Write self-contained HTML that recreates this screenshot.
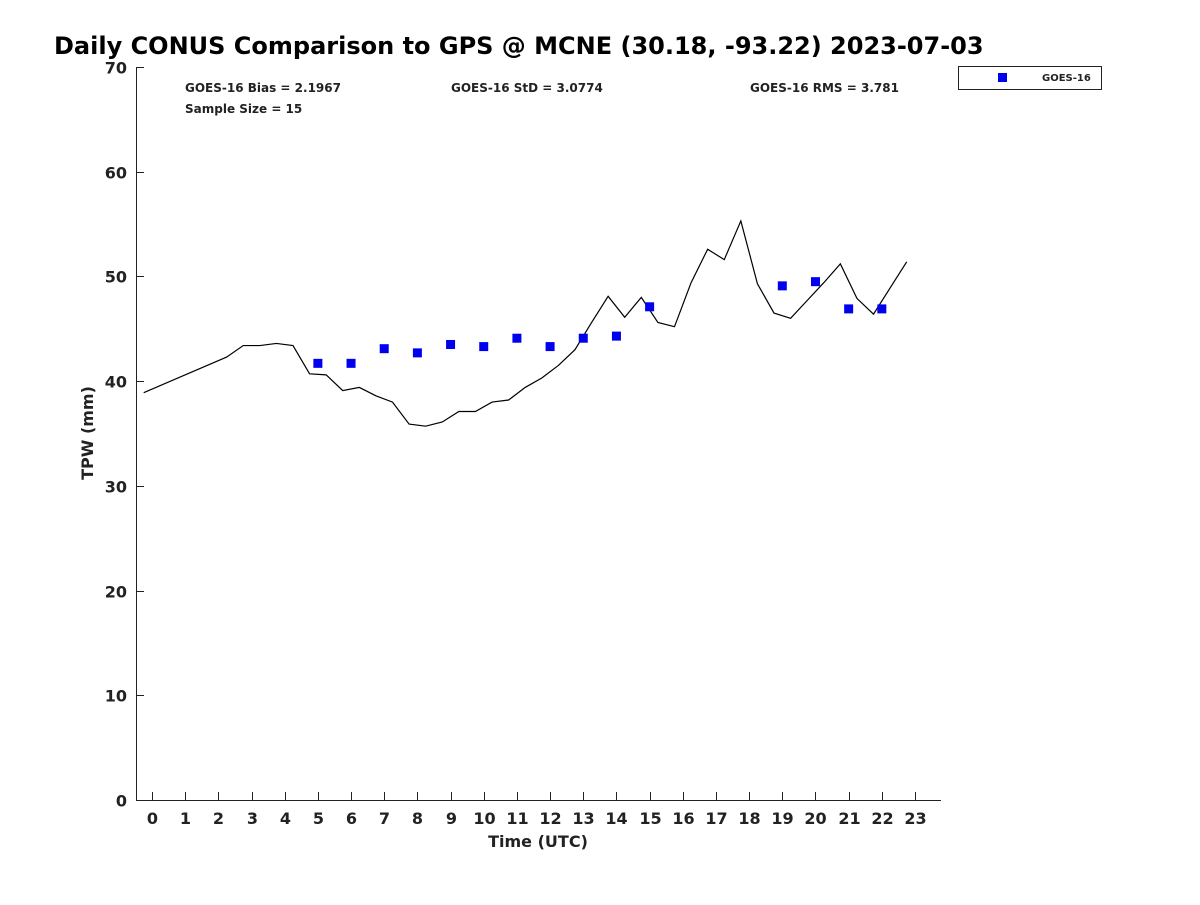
<!DOCTYPE html>
<html><head><meta charset="utf-8"><style>
body{margin:0;background:#fff;}
svg text{font-family:"DejaVu Sans","Liberation Sans",sans-serif;font-weight:bold;fill:#222;}
</style></head><body>
<svg width="1200" height="900" viewBox="0 0 1200 900">
<text x="54" y="54" font-size="24" fill="#000" style="fill:#000">Daily CONUS Comparison to GPS @ MCNE (30.18, -93.22) 2023-07-03</text>
<g id="axes"></g>
<g id="marks"></g>
<text x="185" y="92" font-size="12">GOES-16 Bias = 2.1967</text>
<text x="451" y="92" font-size="12">GOES-16 StD = 3.0774</text>
<text x="750" y="92" font-size="12">GOES-16 RMS = 3.781</text>
<text x="185" y="113" font-size="12">Sample Size = 15</text>
<g>
<rect x="958.5" y="66.5" width="143" height="23" fill="#fff" stroke="#222"/>
<rect x="998" y="73" width="9" height="9" fill="#0000ee"/>
<text x="1042" y="81" font-size="10">GOES-16</text>
</g>
<text x="538" y="847" font-size="16" text-anchor="middle">Time (UTC)</text>
<text transform="translate(93,433) rotate(-90)" font-size="16" text-anchor="middle">TPW (mm)</text>
</svg>
<script>
const gpsTimes=[-0.25,2.25,2.75,3.25,3.75,4.25,4.75,5.25,5.75,6.25,6.75,7.25,7.75,8.25,8.75,9.25,9.75,10.25,10.75,11.25,11.75,12.25,12.75,13.25,13.75,14.25,14.75,15.25,15.75,16.25,16.75,17.25,17.75,18.25,18.75,19.25,19.75,20.25,20.75,21.25,21.75,22.25,22.75];
const gpsValues=[38.9,42.3,43.4,43.4,43.6,43.4,40.7,40.6,39.1,39.4,38.6,38.0,35.9,35.7,36.1,37.1,37.1,38.0,38.2,39.4,40.3,41.5,43.0,45.6,48.1,46.1,48.0,45.6,45.2,49.4,52.6,51.6,55.3,49.3,46.5,46.0,47.7,49.4,51.2,47.9,46.4,48.9,51.4];
const goesHours=[5,6,7,8,9,10,11,12,13,14,15,19,20,21,22];
const goesValues=[41.7,41.7,43.1,42.7,43.5,43.3,44.1,43.3,44.1,44.3,47.1,49.1,49.5,46.9,46.9];
const xTicks=[0,1,2,3,4,5,6,7,8,9,10,11,12,13,14,15,16,17,18,19,20,21,22,23];
const yTicks=[0,10,20,30,40,50,60,70];
const NS='http://www.w3.org/2000/svg';
const xs=h=>152+h*(915-152)/23;
const ys=v=>800-v*(800-67)/70;
function mk(tag,attrs,parent){const e=document.createElementNS(NS,tag);for(const k in attrs)e.setAttribute(k,attrs[k]);parent.appendChild(e);return e;}
const axes=document.getElementById('axes'),marks=document.getElementById('marks');
let a=mk('line',{x1:136.5,y1:67,x2:136.5,y2:800.5,stroke:'#222'},axes);


a=mk('line',{x1:136,y1:800.5,x2:941,y2:800.5,stroke:'#222'},axes);


xTicks.forEach(h=>{const x=Math.round(xs(h))+0.5;
 const t=mk('line',{x1:x,y1:800,x2:x,y2:792,stroke:'#222'},axes);
 
 
 const l=mk('text',{x:x,y:824,'font-size':16,'text-anchor':'middle'},axes);l.textContent=h;
 
 
});
yTicks.forEach(v=>{const y=Math.round(ys(v))+0.5;
 const t=mk('line',{x1:136,y1:y,x2:144,y2:y,stroke:'#222'},axes);
 
 
 const l=mk('text',{x:127,y:y+6,'font-size':16,'text-anchor':'end'},axes);l.textContent=v;
 
 
});
const pl=mk('polyline',{points:gpsTimes.map((t,i)=>xs(t)+','+ys(gpsValues[i])).join(' '),fill:'none',stroke:'#000','stroke-width':1.2},marks);


goesHours.forEach((h,i)=>{
 const r=mk('rect',{x:xs(h)-4.5,y:ys(goesValues[i])-4.5,width:9,height:9,fill:'#0000ee'},marks);
 
 
});
</script>
</body></html>
